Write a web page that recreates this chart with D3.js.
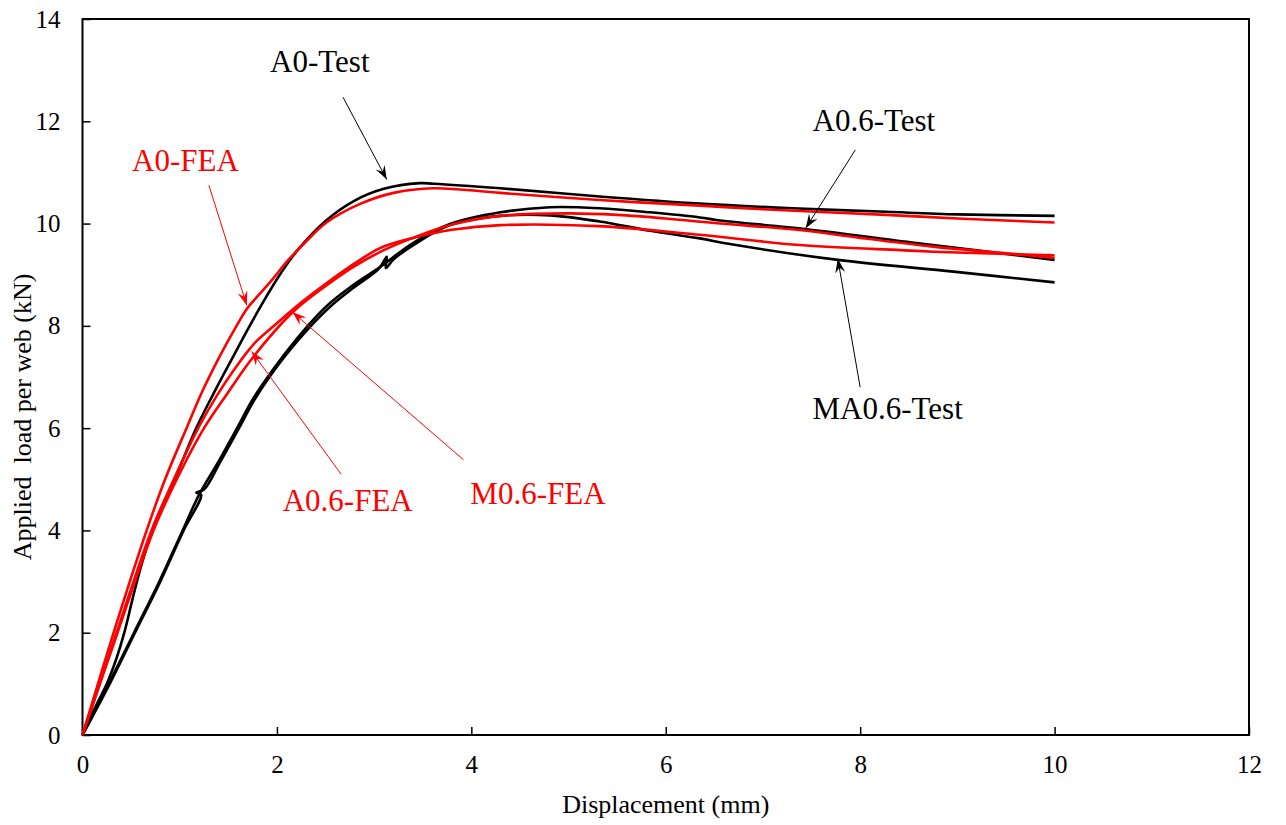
<!DOCTYPE html>
<html>
<head>
<meta charset="utf-8">
<script src="https://cdn.jsdelivr.net/npm/d3@7"></script>
<style>
  body { margin: 0; background: #fff; }
  text { font-family: "Liberation Serif", "Times New Roman", serif; }
</style>
</head>
<body>
<div id="vis"></div>
<script>
// Data: [displacement (mm), load (kN)]
var xTicks = [0, 2, 4, 6, 8, 10, 12];
var yTicks = [0, 2, 4, 6, 8, 10, 12, 14];

var a0Test = [[0,0],[0.12,0.5],[0.25,1.0],[0.35,1.5],[0.43,2.0],[0.52,2.7],[0.61,3.35],[0.72,4],[0.95,5],[1.17,6],[1.36,6.72],[1.55,7.4],[1.72,8.0],[1.9,8.6],[2.03,9.0],[2.2,9.45],[2.5,10.05],[2.8,10.45],[3.1,10.68],[3.47,10.79],[3.61,10.78],[4.3,10.69],[5.32,10.53],[6.35,10.39],[7.3,10.3],[8.27,10.23],[9,10.18],[10,10.15]];
var a0FEA = [[0,0],[0.32,2],[0.66,4],[0.85,5],[1.07,6],[1.24,6.75],[1.41,7.4],[1.57,7.95],[1.69,8.33],[1.82,8.62],[1.95,8.9],[2.1,9.25],[2.3,9.65],[2.51,10.02],[2.85,10.38],[3.2,10.6],[3.61,10.69],[4.3,10.6],[5.32,10.46],[6.35,10.35],[7,10.28],[8.27,10.17],[9,10.1],[10,10.02]];
var a06Test = [[0,0],[0.27,1.0],[0.53,2],[0.79,3],[1.03,4],[1.2,4.7],[1.4,5.35],[1.59,6],[1.76,6.59],[2.06,7.4],[2.34,8.05],[2.53,8.42],[2.75,8.75],[3.06,9.15],[3.4,9.62],[3.78,9.99],[4.3,10.22],[4.81,10.32],[5.32,10.3],[5.84,10.22],[6.35,10.12],[6.56,10.06],[7.45,9.89],[8.62,9.61],[10,9.29]];
var ma06Test = [[0,0],[0.28,1.0],[0.54,2],[0.8,3],[1.04,4],[1.22,4.7],[1.17,4.74],[1.25,4.8],[1.42,5.35],[1.61,6],[1.78,6.59],[2.08,7.4],[2.36,8.02],[2.55,8.38],[2.77,8.72],[3.05,9.12],[3.13,9.35],[3.12,9.13],[3.2,9.3],[3.42,9.6],[3.78,9.97],[4.3,10.15],[4.81,10.16],[5.32,10.04],[5.84,9.86],[6.35,9.71],[6.66,9.6],[7.77,9.29],[8.96,9.06],[10,8.85]];
var a06FEA = [[0,0],[0.35,2],[0.71,4],[0.94,5],[1.19,6],[1.41,6.72],[1.6,7.25],[1.72,7.55],[1.79,7.7],[2.0,8.05],[2.24,8.44],[2.53,8.86],[2.8,9.22],[3.06,9.52],[3.4,9.72],[3.8,9.88],[4.3,9.97],[5.3,9.95],[6.35,9.78],[7.38,9.58],[8.41,9.48],[8.75,9.45],[10,9.38]];
var m06FEA = [[0,0],[0.36,2],[0.73,4],[0.97,5],[1.25,6],[1.48,6.65],[1.76,7.4],[2.17,8.28],[2.53,8.82],[2.8,9.17],[3.1,9.48],[3.4,9.72],[3.8,9.98],[4.3,10.15],[5.0,10.2],[5.5,10.17],[6,10.1],[6.5,10.01],[7.4,9.87],[8,9.72],[8.75,9.55],[9.5,9.42],[10,9.33]];

var seriesValues = [a0Test, a0FEA, a06Test, ma06Test, a06FEA, m06FEA];
var seriesColors = ["#000", "#ff0000", "#000", "#000", "#ff0000", "#ff0000"];

// labels: text, colour, [x, y] of text start, arrow from [x,y] to [x,y]
var labelNames = ["A0-Test", "A0-FEA", "A0.6-Test", "MA0.6-Test", "A0.6-FEA", "M0.6-FEA"];
var labelColors = ["#000", "#ff0000", "#000", "#000", "#ff0000", "#ff0000"];
var labelPos = [[1.93,12.96],[0.51,11.03],[7.51,11.81],[7.51,6.18],[2.06,4.38],[3.99,4.52]];
var arrowFrom = [[2.68,12.47],[1.3,10.75],[7.95,11.44],[8.0,6.8],[2.66,5.1],[3.92,5.38]];
var arrowTo = [[3.13,10.86],[1.69,8.4],[7.44,9.91],[7.77,9.31],[1.74,7.5],[2.16,8.27]];

var W = 1286, H = 825;
var margin = {top: 19, right: 37, bottom: 90, left: 82.5};
var width = W - margin.left - margin.right,
	height = H - margin.top - margin.bottom;

var svg = d3.select("#vis")
			.append("svg")
			.attr("width", W)
			.attr("height", H);

var plot = svg.append("g")
			  .attr("transform", "translate(" + margin.left + "," + margin.top + ")");

var x = d3.scaleLinear().domain([0, 12]).range([0, width]);
var y = d3.scaleLinear().domain([0, 14]).range([height, 0]);

// axes, ticks pointing inward
var xAxis = plot.append("g")
	.attr("transform", "translate(0," + height + ")")
	.call(d3.axisBottom(x).tickValues(xTicks).tickSizeInner(-8).tickSizeOuter(0).tickPadding(20));
var yAxis = plot.append("g")
	.call(d3.axisLeft(y).tickValues(yTicks).tickSizeInner(-8).tickSizeOuter(0).tickPadding(22));

[xAxis, yAxis].forEach(function(a) {
	a.attr("font-family", null).attr("font-size", null);
	a.select(".domain").remove();
	a.selectAll("line").attr("stroke", "#000").attr("stroke-width", 1.5);
	a.selectAll("text")
	 .style("font-size", "25px")
	 .attr("fill", "#000");
});
xAxis.selectAll("text").attr("dy", "0.71em").attr("y", 20);

// frame
plot.append("rect")
	.attr("x", 0).attr("y", 0)
	.attr("width", width).attr("height", height)
	.attr("fill", "none")
	.attr("stroke", "#000")
	.attr("stroke-width", 2);

// curves
var line = d3.line()
	.x(function(d) { return x(d[0]); })
	.y(function(d) { return y(d[1]); })
	.curve(d3.curveCatmullRom.alpha(0.5));

plot.selectAll(".series")
	.data(seriesValues)
	.enter()
	.append("path")
	.attr("class", "series")
	.attr("d", line)
	.attr("fill", "none")
	.attr("stroke", function(d, i) { return seriesColors[i]; })
	.attr("stroke-width", 2.6)
	.attr("stroke-linejoin", "round");

// arrow heads
var defs = svg.append("defs");
["#000", "#ff0000"].forEach(function(c, i) {
	defs.append("marker")
		.attr("id", "head" + i)
		.attr("viewBox", "-14 -6 16 12")
		.attr("refX", 0).attr("refY", 0)
		.attr("markerWidth", 16).attr("markerHeight", 12)
		.attr("markerUnits", "userSpaceOnUse")
		.attr("orient", "auto")
		.append("path")
		.attr("d", "M0,0 L-14,-5 L-9,0 L-14,5 Z")
		.attr("fill", c);
});

plot.selectAll(".arrow")
	.data(labelNames)
	.enter()
	.append("line")
	.attr("class", "arrow")
	.attr("x1", function(d, i) { return x(arrowFrom[i][0]); })
	.attr("y1", function(d, i) { return y(arrowFrom[i][1]); })
	.attr("x2", function(d, i) { return x(arrowTo[i][0]); })
	.attr("y2", function(d, i) { return y(arrowTo[i][1]); })
	.attr("stroke", function(d, i) { return labelColors[i]; })
	.attr("stroke-width", 1)
	.attr("marker-end", function(d, i) { return labelColors[i] === "#000" ? "url(#head0)" : "url(#head1)"; });

plot.selectAll(".label")
	.data(labelNames)
	.enter()
	.append("text")
	.attr("class", "label")
	.attr("x", function(d, i) { return x(labelPos[i][0]); })
	.attr("y", function(d, i) { return y(labelPos[i][1]); })
	.attr("fill", function(d, i) { return labelColors[i]; })
	.style("font-size", "31px")
	.text(function(d) { return d; });

// axis titles
svg.append("text")
	.attr("x", margin.left + width / 2)
	.attr("y", 813)
	.attr("text-anchor", "middle")
	.style("font-size", "26px")
	.text("Displacement (mm)");

svg.append("text")
	.attr("transform", "translate(31," + 417 + ") rotate(-90)")
	.attr("text-anchor", "middle")
	.style("font-size", "26px")
	.style("white-space", "pre")
	.text("Applied  load per web (kN)");
</script>
</body>
</html>
